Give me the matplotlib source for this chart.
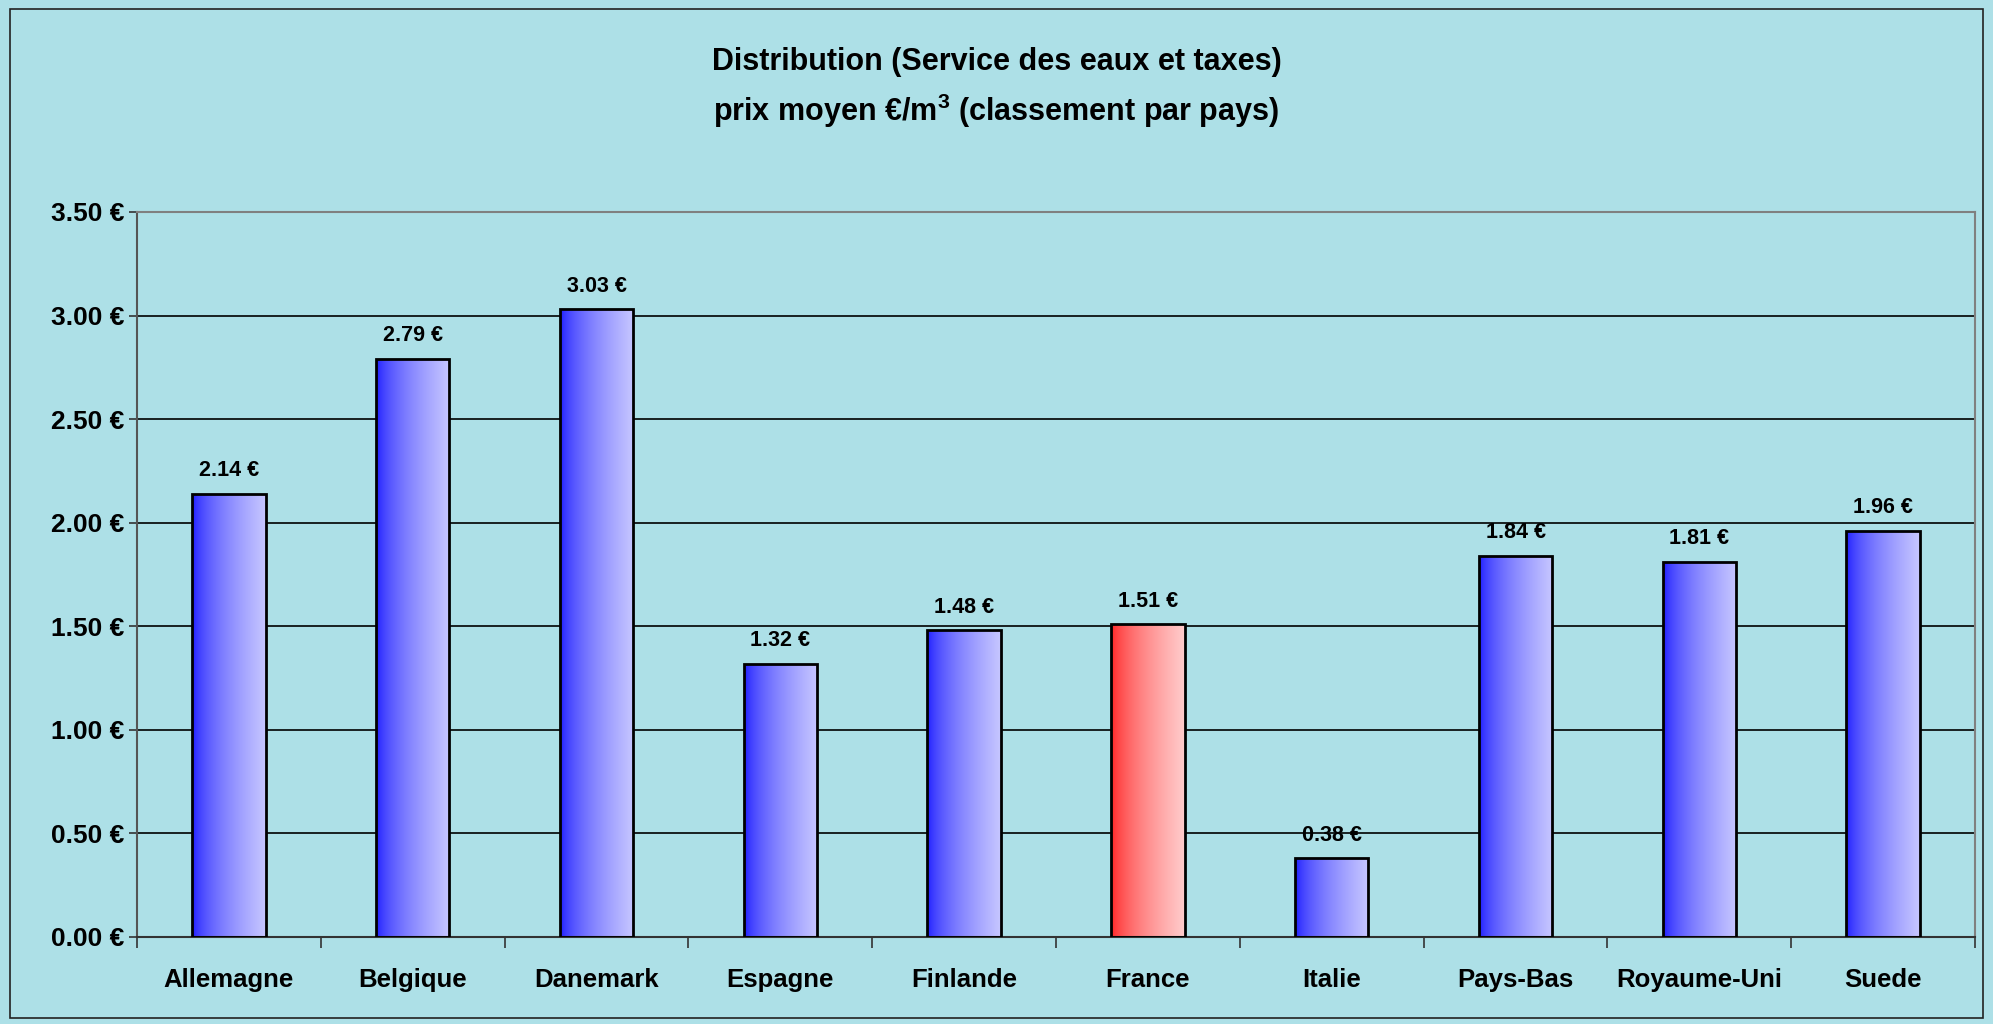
import matplotlib.pyplot as plt
import numpy as np
from matplotlib.patches import Rectangle

countries = ["Allemagne", "Belgique", "Danemark", "Espagne", "Finlande",
             "France", "Italie", "Pays-Bas", "Royaume-Uni", "Suede"]
prices = [2.14, 2.79, 3.03, 1.32, 1.48, 1.51, 0.38, 1.84, 1.81, 1.96]
highlight = "France"
y_ticks = [0.0, 0.5, 1.0, 1.5, 2.0, 2.5, 3.0, 3.5]

plt.rcParams["font.family"] = ["Liberation Sans", "DejaVu Sans"]
plt.rcParams["font.weight"] = "bold"
plt.rcParams["mathtext.fontset"] = "custom"
plt.rcParams["mathtext.bf"] = "Liberation Sans:bold"
plt.rcParams["mathtext.rm"] = "Liberation Sans:bold"

bg = "#ade0e7"

fig = plt.figure(figsize=(19.93, 10.24), dpi=100)
fig.patch.set_facecolor(bg)
fig.patches.append(Rectangle((0.005, 0.006), 0.99, 0.985, transform=fig.transFigure,
                             fill=False, edgecolor="#222222", linewidth=1.2))

ax = fig.add_axes([0.0687, 0.085, 0.9223, 0.708])
ax.set_facecolor("none")

x = np.arange(len(countries))
bars = ax.bar(x, prices, width=0.4, facecolor="none", edgecolor="black",
              linewidth=2, zorder=3)

# horizontal gradients, dark on the left, pale on the right
ramp = np.linspace(0, 1, 256) ** 0.6
blue = np.array([[[0.08 + 0.70 * t, 0.08 + 0.70 * t, 1.0] for t in ramp]])
red = np.array([[[1.0, 0.10 + 0.70 * t, 0.10 + 0.70 * t] for t in ramp]])
for bar, name in zip(bars, countries):
    img = red if name == highlight else blue
    x0, w, h = bar.get_x(), bar.get_width(), bar.get_height()
    im = ax.imshow(img, extent=(x0, x0 + w, 0, h), aspect="auto", zorder=2,
                   interpolation="bilinear")
    im.set_clip_path(bar)
    ax.text(x0 + w / 2, h + 0.085, f"{h:.2f} €", ha="center", va="baseline",
            fontsize=15.5, fontweight="bold", zorder=4)

ax.set_xlim(-0.5, len(countries) - 0.5)
ax.set_ylim(0, 3.5)
ax.set_yticks(y_ticks)
ax.set_yticklabels([f"{v:.2f} €" for v in y_ticks], fontsize=19, fontweight="bold")
ax.set_xticks(x)
ax.set_xticklabels(countries, fontsize=18.5, fontweight="bold")
ax.set_xticks(np.arange(-0.5, len(countries)), minor=True)
ax.tick_params(axis="x", which="major", length=0, pad=22)
ax.tick_params(axis="x", which="minor", length=8, width=1.2, color="#333333",
               direction="out")
ax.tick_params(axis="y", length=6, width=1.2, color="#333333", pad=3)

ax.yaxis.grid(True, color="black", linewidth=1.2, zorder=1)
ax.set_axisbelow(True)
for side in ["top", "right"]:
    ax.spines[side].set_color("#808080")
    ax.spines[side].set_linewidth(1.5)
ax.spines["left"].set_color("#555555")
ax.spines["left"].set_linewidth(1.5)
ax.spines["bottom"].set_color("#333333")
ax.spines["bottom"].set_linewidth(1.5)

fig.text(0.5, 0.939, "Distribution (Service des eaux et taxes)", ha="center",
         va="center", fontsize=22, fontweight="bold")
fig.text(0.5, 0.892, r"prix moyen €/m$^{\mathbf{3}}$ (classement par pays)", ha="center",
         va="center", fontsize=22, fontweight="bold")

fig.savefig("out.png", dpi=100, facecolor=fig.get_facecolor())
